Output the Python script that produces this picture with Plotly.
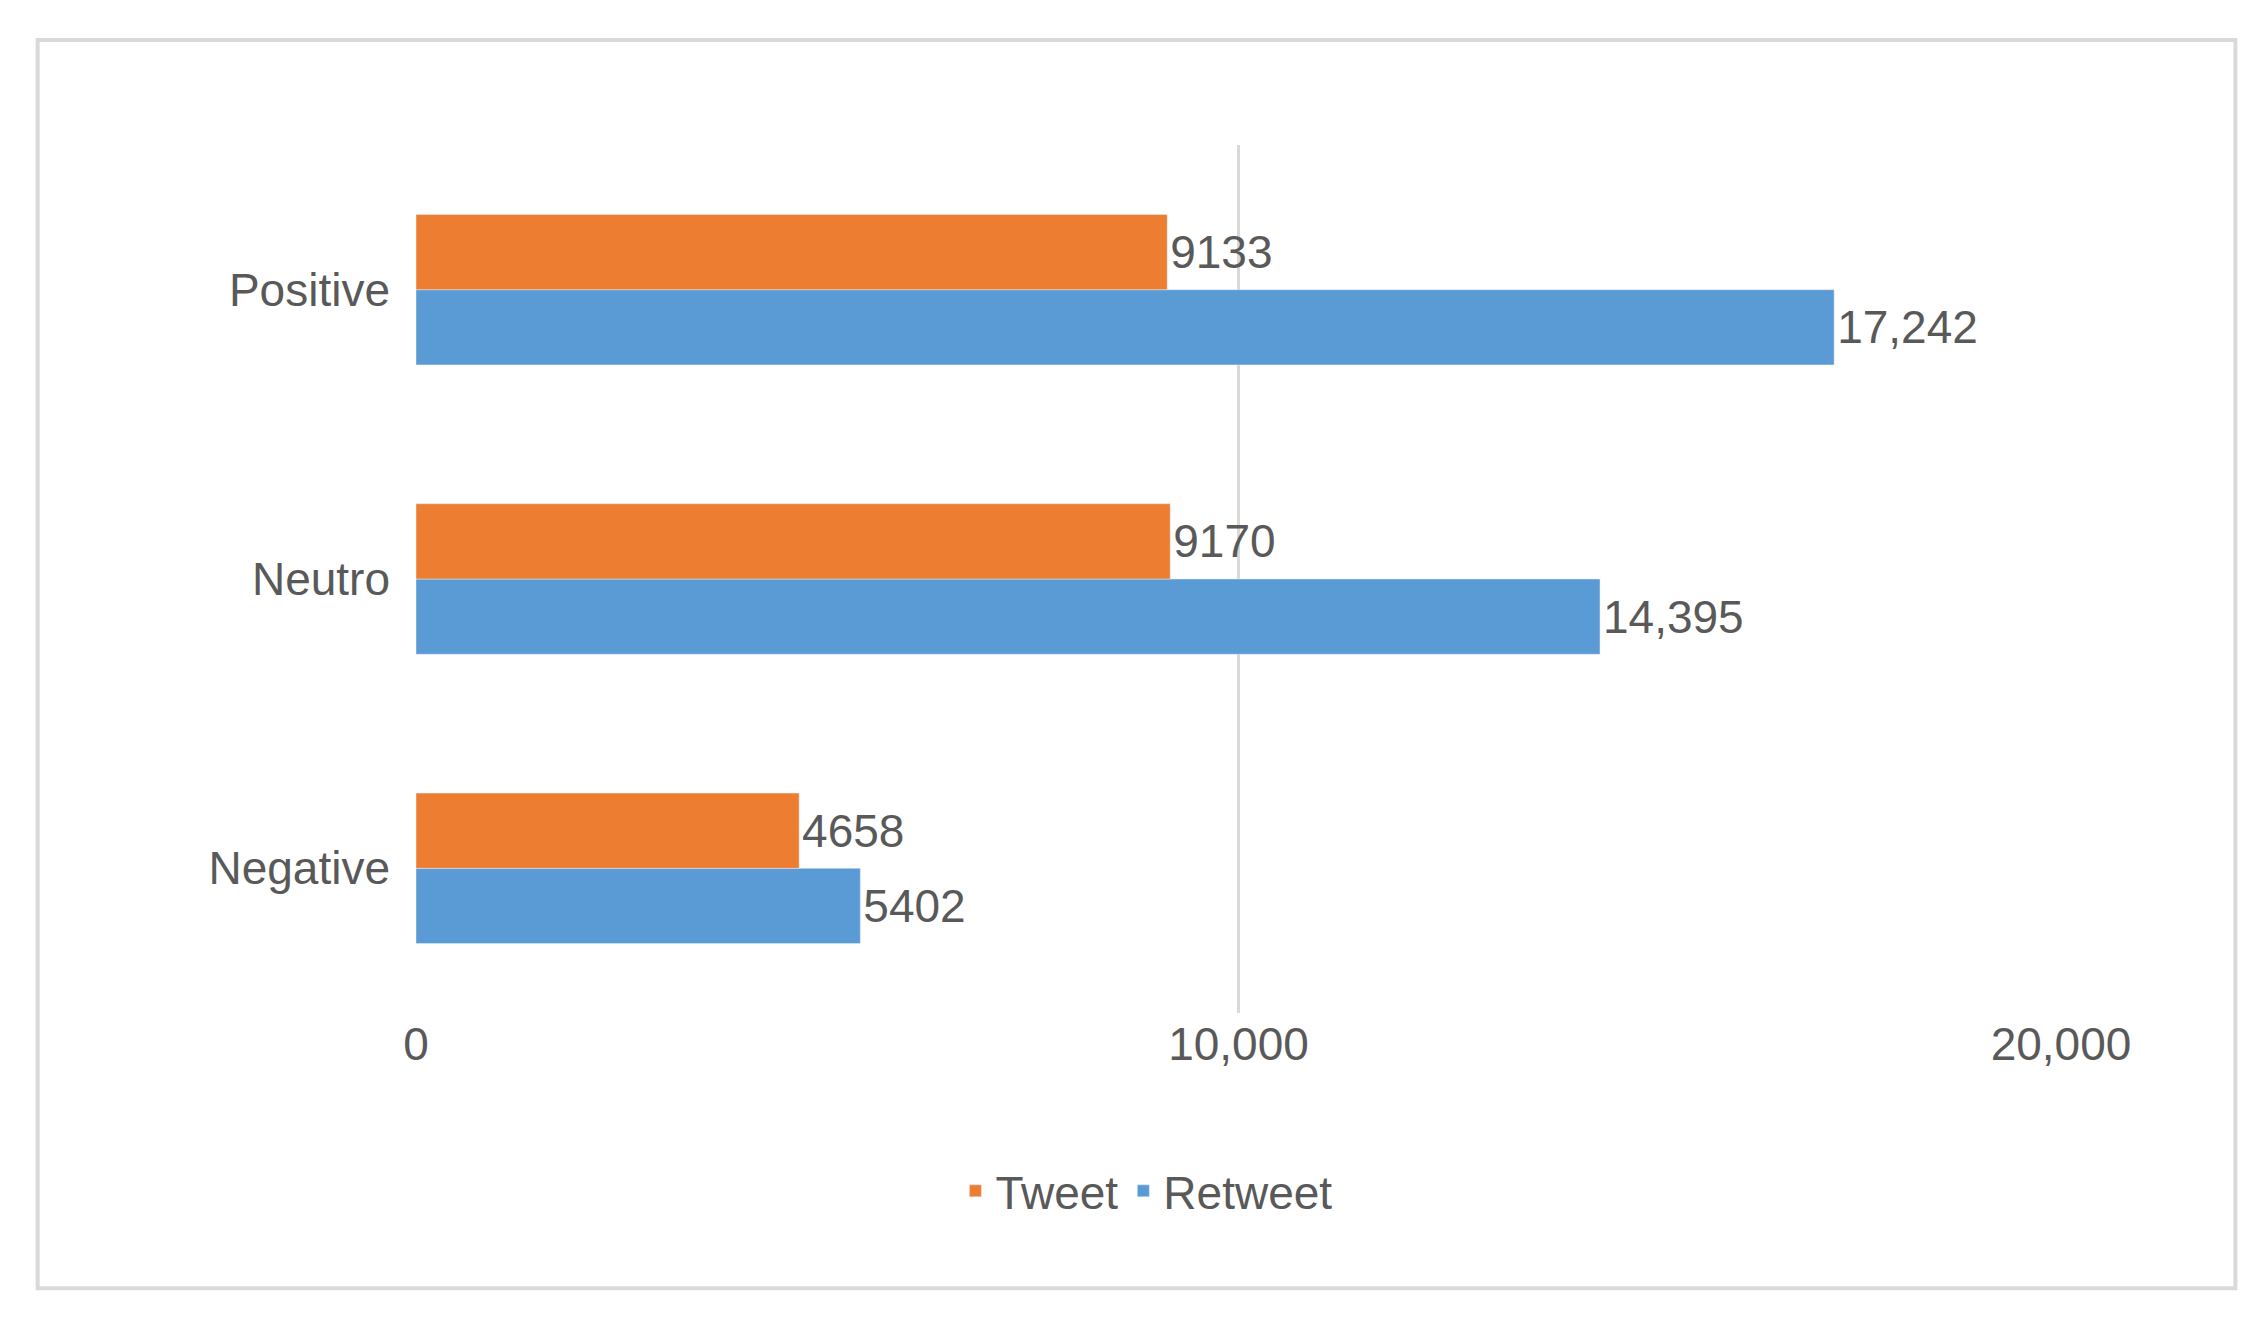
import plotly.graph_objects as go

categories = ["Negative", "Neutro", "Positive"]
tweet = [4658, 9170, 9133]
retweet = [5402, 14395, 17242]
tweet_labels = ["4658", "9170", "9133"]
retweet_labels = ["5402", "14,395", "17,242"]
tick_vals = [0, 10000, 20000]
tick_text = ["0", "10,000", "20,000"]

font = dict(family="Liberation Sans", size=46, color="#595959")

fig = go.Figure()
fig.add_trace(go.Bar(y=categories, x=retweet, orientation="h", name="Retweet",
                     marker_color="#5b9bd5", text=retweet_labels, textposition="outside",
                     textfont=font, cliponaxis=False))
fig.add_trace(go.Bar(y=categories, x=tweet, orientation="h", name="Tweet",
                     marker_color="#ed7d31", text=tweet_labels, textposition="outside",
                     textfont=font, cliponaxis=False))

fig.update_layout(
    width=2256, height=1318, barmode="group", bargap=0.48, bargroupgap=0,
    plot_bgcolor="white", paper_bgcolor="white", font=font,
    margin=dict(l=408, r=203, t=137, b=313),
    xaxis=dict(range=[0, 20000], tickvals=tick_vals, ticktext=tick_text,
               showgrid=True, gridcolor="#d9d9d9", gridwidth=3, zeroline=False,
               showline=False, ticks=""),
    yaxis=dict(showgrid=False, zeroline=False, ticks="", ticklabelstandoff=25),
    legend=dict(orientation="h", x=0.444, xanchor="center", y=-0.205, yanchor="middle",
                traceorder="reversed", font=font),
    shapes=[dict(type="rect", xref="paper", yref="paper", x0=-0.230, x1=1.106,
                 y0=-0.317, y1=1.121, line=dict(color="#d9d9d9", width=4))],
)
fig.write_html("out.html")
